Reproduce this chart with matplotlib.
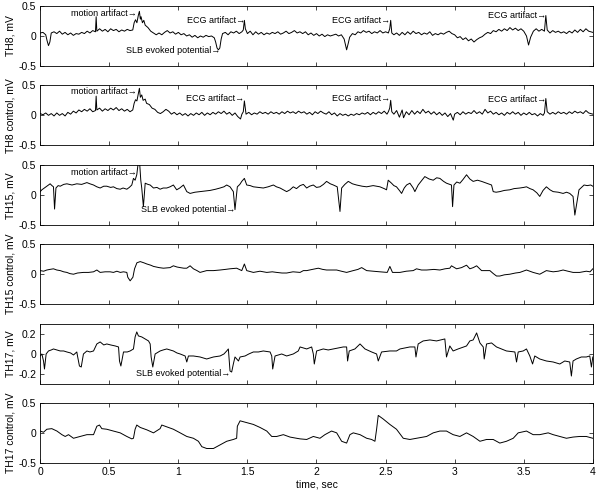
import numpy as np
import matplotlib
matplotlib.use('Agg')
import matplotlib.pyplot as plt

plt.rcParams['font.family'] = ['Liberation Sans', 'DejaVu Sans']

# traces: (time in sec, value in mV)
th8 = [(0.00, 0.05), (0.02, 0.06), (0.04, 0.02), (0.05, -0.08), (0.06, -0.16), (0.07, -0.10),
       (0.08, 0.05), (0.10, 0.07), (0.12, 0.04), (0.14, 0.08), (0.16, 0.03), (0.18, 0.06),
       (0.20, 0.02), (0.22, 0.05), (0.24, 0.01), (0.26, 0.04), (0.28, 0.03), (0.30, 0.06),
       (0.32, 0.04), (0.34, 0.08), (0.36, 0.05), (0.38, 0.09), (0.40, 0.07), (0.405, 0.32),
       (0.41, 0.08), (0.43, 0.12), (0.45, 0.08), (0.47, 0.11), (0.49, 0.07), (0.51, 0.12),
       (0.53, 0.09), (0.55, 0.11), (0.57, 0.07), (0.59, 0.10), (0.61, 0.08), (0.63, 0.11),
       (0.65, 0.09), (0.67, 0.10), (0.68, 0.22), (0.69, 0.27), (0.70, 0.22), (0.71, 0.34),
       (0.718, 0.41), (0.725, 0.28), (0.73, 0.32), (0.74, 0.22), (0.75, 0.26), (0.76, 0.18),
       (0.78, 0.14), (0.80, 0.08), (0.82, 0.05), (0.84, 0.02), (0.86, 0.05), (0.88, 0.02),
       (0.90, 0.06), (0.92, 0.09), (0.94, 0.05), (0.96, 0.07), (0.98, 0.03), (1.00, 0.06),
       (1.02, 0.02), (1.04, 0.04), (1.06, 0.00), (1.08, 0.02), (1.10, -0.02), (1.12, 0.01),
       (1.14, -0.03), (1.16, 0.00), (1.18, -0.02), (1.20, 0.01), (1.22, -0.01), (1.24, 0.00),
       (1.26, -0.03), (1.27, -0.10), (1.28, -0.20), (1.29, -0.23), (1.30, -0.20), (1.31, -0.05),
       (1.32, 0.04), (1.34, 0.06), (1.36, 0.02), (1.38, 0.07), (1.40, 0.05), (1.42, 0.08),
       (1.44, 0.04), (1.46, 0.07), (1.47, 0.10), (1.478, 0.26), (1.485, 0.12), (1.50, 0.04),
       (1.52, 0.08), (1.54, 0.02), (1.56, 0.07), (1.58, 0.03), (1.60, 0.06), (1.62, 0.02),
       (1.64, 0.05), (1.66, 0.03), (1.68, 0.06), (1.70, 0.04), (1.72, 0.07), (1.74, 0.03),
       (1.76, 0.05), (1.78, 0.08), (1.80, 0.04), (1.82, 0.06), (1.84, 0.09), (1.86, 0.05),
       (1.88, 0.07), (1.90, 0.04), (1.92, 0.07), (1.94, 0.02), (1.96, 0.05), (1.98, 0.01),
       (2.00, 0.04), (2.02, 0.00), (2.04, 0.03), (2.06, -0.01), (2.08, 0.02), (2.10, 0.00),
       (2.14, 0.03), (2.16, 0.00), (2.18, 0.02), (2.20, -0.05), (2.21, -0.15), (2.218, -0.23),
       (2.23, -0.12), (2.24, -0.02), (2.26, 0.04), (2.28, 0.02), (2.30, 0.07), (2.32, 0.05),
       (2.34, 0.09), (2.36, 0.06), (2.38, 0.08), (2.40, 0.04), (2.42, 0.07), (2.44, 0.05),
       (2.46, 0.09), (2.48, 0.05), (2.50, 0.07), (2.52, 0.05), (2.53, 0.12), (2.537, 0.26),
       (2.545, 0.05), (2.56, 0.02), (2.58, 0.05), (2.60, 0.01), (2.62, 0.06), (2.64, 0.02),
       (2.66, 0.07), (2.68, 0.03), (2.70, 0.08), (2.72, 0.04), (2.74, 0.06), (2.76, 0.02),
       (2.78, 0.05), (2.80, 0.03), (2.82, 0.07), (2.84, 0.01), (2.86, 0.04), (2.88, 0.02),
       (2.90, 0.05), (2.92, 0.03), (2.94, 0.06), (2.96, 0.08), (2.98, 0.04), (3.00, 0.02),
       (3.02, -0.03), (3.04, -0.01), (3.06, -0.06), (3.08, -0.03), (3.10, -0.08), (3.12, -0.05),
       (3.14, -0.10), (3.16, -0.06), (3.18, -0.03), (3.20, -0.01), (3.22, 0.03), (3.24, 0.06),
       (3.26, 0.04), (3.28, 0.09), (3.30, 0.07), (3.32, 0.11), (3.34, 0.08), (3.36, 0.12),
       (3.38, 0.09), (3.40, 0.14), (3.42, 0.10), (3.44, 0.13), (3.46, 0.09), (3.48, 0.12),
       (3.50, 0.08), (3.52, 0.00), (3.535, -0.15), (3.55, -0.02), (3.57, 0.08), (3.59, 0.12),
       (3.61, 0.08), (3.63, 0.11), (3.65, 0.08), (3.66, 0.34), (3.67, 0.10), (3.69, 0.05),
       (3.71, 0.09), (3.73, 0.06), (3.75, 0.08), (3.77, 0.05), (3.79, 0.07), (3.81, 0.04),
       (3.83, 0.08), (3.85, 0.05), (3.87, 0.10), (3.89, 0.06), (3.91, 0.11), (3.93, 0.07),
       (3.95, 0.12), (3.97, 0.08), (4.00, 0.06)]

th8_control = [(0.00, 0.03), (0.02, 0.01), (0.04, 0.04), (0.06, 0.00), (0.08, 0.03), (0.10, -0.01),
               (0.12, 0.04), (0.14, 0.00), (0.16, 0.03), (0.18, -0.01), (0.20, 0.05), (0.22, 0.02),
               (0.24, 0.07), (0.26, 0.04), (0.28, 0.09), (0.30, 0.06), (0.32, 0.10), (0.34, 0.07),
               (0.36, 0.11), (0.38, 0.06), (0.40, 0.08), (0.405, 0.32), (0.41, 0.09), (0.43, 0.12),
               (0.45, 0.07), (0.47, 0.11), (0.49, 0.08), (0.51, 0.12), (0.53, 0.09), (0.55, 0.13),
               (0.57, 0.08), (0.59, 0.11), (0.61, 0.07), (0.63, 0.10), (0.65, 0.06), (0.67, 0.09),
               (0.68, 0.20), (0.69, 0.26), (0.70, 0.24), (0.71, 0.36), (0.718, 0.45), (0.725, 0.30),
               (0.735, 0.34), (0.745, 0.25), (0.76, 0.27), (0.77, 0.20), (0.79, 0.18), (0.81, 0.12),
               (0.83, 0.10), (0.85, 0.05), (0.87, 0.03), (0.89, 0.06), (0.91, 0.10), (0.93, 0.07),
               (0.95, 0.02), (0.97, 0.05), (0.99, 0.01), (1.01, 0.04), (1.03, 0.00), (1.05, 0.03),
               (1.07, -0.01), (1.09, 0.03), (1.11, 0.00), (1.13, 0.04), (1.15, 0.01), (1.17, 0.05),
               (1.19, 0.00), (1.21, 0.04), (1.23, 0.01), (1.25, 0.05), (1.27, 0.02), (1.29, 0.06),
               (1.31, 0.03), (1.33, 0.07), (1.35, 0.02), (1.37, 0.05), (1.39, 0.00), (1.41, 0.04),
               (1.43, -0.02), (1.45, -0.06), (1.46, 0.02), (1.47, 0.06), (1.478, 0.24), (1.49, 0.02),
               (1.51, 0.05), (1.53, 0.01), (1.55, 0.04), (1.57, 0.02), (1.59, 0.06), (1.61, 0.03),
               (1.63, 0.05), (1.65, 0.02), (1.67, 0.06), (1.69, 0.03), (1.71, 0.05), (1.73, 0.02),
               (1.75, 0.06), (1.77, 0.03), (1.79, 0.07), (1.81, 0.04), (1.83, 0.06), (1.85, 0.03),
               (1.87, 0.07), (1.89, 0.04), (1.91, 0.06), (1.93, 0.02), (1.95, 0.05), (1.97, 0.01),
               (1.99, 0.06), (2.01, 0.03), (2.03, 0.07), (2.05, 0.04), (2.07, 0.02), (2.09, 0.06),
               (2.11, 0.01), (2.13, 0.04), (2.15, -0.01), (2.17, 0.03), (2.19, 0.00), (2.21, 0.02),
               (2.23, -0.01), (2.25, 0.02), (2.27, 0.00), (2.29, 0.03), (2.31, 0.01), (2.33, 0.04),
               (2.35, 0.02), (2.37, 0.05), (2.39, 0.01), (2.41, 0.05), (2.43, 0.02), (2.45, 0.06),
               (2.47, 0.03), (2.49, 0.07), (2.51, 0.02), (2.52, 0.06), (2.53, 0.12), (2.537, 0.25),
               (2.545, 0.06), (2.56, 0.02), (2.58, 0.08), (2.60, -0.03), (2.62, 0.09), (2.63, -0.04),
               (2.65, 0.06), (2.67, 0.01), (2.69, 0.08), (2.71, 0.02), (2.73, 0.07), (2.75, 0.03),
               (2.77, 0.10), (2.79, 0.04), (2.81, 0.07), (2.83, 0.02), (2.85, 0.06), (2.87, 0.01),
               (2.89, 0.05), (2.91, 0.00), (2.93, 0.04), (2.95, -0.02), (2.97, 0.03), (2.99, -0.08),
               (3.00, 0.02), (3.02, 0.05), (3.04, 0.01), (3.06, 0.06), (3.08, 0.02), (3.10, 0.05),
               (3.12, 0.03), (3.14, 0.08), (3.16, 0.03), (3.18, 0.06), (3.20, 0.02), (3.22, 0.10),
               (3.24, 0.04), (3.26, 0.07), (3.28, 0.02), (3.30, 0.05), (3.32, 0.01), (3.34, 0.04),
               (3.36, 0.00), (3.38, 0.05), (3.40, 0.02), (3.42, 0.06), (3.44, 0.02), (3.46, 0.05),
               (3.48, 0.00), (3.50, 0.04), (3.52, 0.01), (3.54, 0.05), (3.56, 0.01), (3.58, 0.03),
               (3.60, -0.01), (3.62, 0.03), (3.64, 0.00), (3.65, 0.04), (3.66, 0.28), (3.67, 0.06),
               (3.69, 0.02), (3.71, 0.05), (3.73, 0.02), (3.75, 0.06), (3.77, 0.03), (3.79, 0.05),
               (3.81, 0.02), (3.83, 0.06), (3.85, 0.03), (3.87, 0.07), (3.89, 0.04), (3.91, 0.06),
               (3.93, 0.03), (3.95, 0.08), (3.97, 0.04), (4.00, 0.02)]

th15 = [(0.00, 0.06), (0.012, 0.09), (0.03, 0.12), (0.048, 0.15), (0.06, 0.17), (0.072, 0.19),
        (0.085, 0.16), (0.096, 0.14), (0.104, -0.23), (0.114, 0.12), (0.13, 0.16), (0.145, 0.15),
        (0.17, 0.18), (0.193, 0.19), (0.23, 0.17), (0.265, 0.19), (0.30, 0.18), (0.338, 0.21),
        (0.36, 0.19), (0.386, 0.17), (0.41, 0.14), (0.434, 0.12), (0.46, 0.15), (0.482, 0.15),
        (0.51, 0.13), (0.53, 0.14), (0.555, 0.11), (0.579, 0.10), (0.60, 0.12), (0.627, 0.10),
        (0.645, 0.13), (0.663, 0.17), (0.675, 0.28), (0.687, 0.25), (0.699, 0.34), (0.71, 0.55),
        (0.718, 0.60), (0.722, 0.45), (0.728, 0.25), (0.735, 0.12), (0.747, -0.19), (0.76, 0.20),
        (0.78, 0.18), (0.796, 0.17), (0.82, 0.12), (0.845, 0.13), (0.868, 0.10), (0.89, 0.12),
        (0.916, 0.12), (0.94, 0.14), (0.964, 0.17), (0.988, 0.09), (1.01, 0.12), (1.037, 0.17),
        (1.061, 0.06), (1.085, 0.03), (1.12, 0.05), (1.157, 0.06), (1.19, 0.07), (1.23, 0.08),
        (1.27, 0.10), (1.302, 0.12), (1.33, 0.14), (1.35, 0.17), (1.374, 0.14), (1.398, 0.06),
        (1.41, -0.24), (1.427, 0.14), (1.445, 0.18), (1.459, 0.23), (1.478, 0.28), (1.495, 0.17),
        (1.52, 0.16), (1.543, 0.14), (1.58, 0.13), (1.615, 0.12), (1.65, 0.14), (1.688, 0.17),
        (1.71, 0.14), (1.736, 0.12), (1.76, 0.09), (1.784, 0.06), (1.808, 0.09), (1.832, 0.14),
        (1.855, 0.11), (1.881, 0.16), (1.905, 0.18), (1.929, 0.12), (1.95, 0.15), (1.977, 0.17),
        (2.00, 0.13), (2.025, 0.14), (2.05, 0.18), (2.073, 0.23), (2.10, 0.19), (2.122, 0.17),
        (2.15, 0.14), (2.17, -0.27), (2.182, 0.12), (2.205, 0.18), (2.23, 0.23), (2.26, 0.19),
        (2.29, 0.17), (2.33, 0.15), (2.363, 0.14), (2.41, 0.16), (2.459, 0.14), (2.49, 0.11),
        (2.507, 0.09), (2.519, 0.25), (2.543, 0.20), (2.56, 0.16), (2.579, 0.14), (2.60, 0.08),
        (2.616, 0.03), (2.635, 0.12), (2.652, 0.17), (2.676, 0.20), (2.70, 0.12), (2.712, 0.06),
        (2.736, 0.17), (2.76, 0.24), (2.784, 0.31), (2.815, 0.27), (2.845, 0.25), (2.87, 0.29),
        (2.893, 0.28), (2.92, 0.23), (2.941, 0.20), (2.977, 0.17), (2.985, -0.19), (2.995, 0.17),
        (3.015, 0.22), (3.038, 0.20), (3.06, 0.26), (3.086, 0.34), (3.11, 0.27), (3.134, 0.23),
        (3.165, 0.25), (3.195, 0.23), (3.231, 0.20), (3.267, 0.17), (3.279, 0.06), (3.30, 0.05),
        (3.327, 0.06), (3.36, 0.08), (3.399, 0.09), (3.43, 0.11), (3.472, 0.12), (3.50, 0.13),
        (3.52, 0.14), (3.545, 0.11), (3.568, 0.09), (3.595, 0.04), (3.616, -0.02), (3.64, 0.08),
        (3.664, 0.14), (3.69, 0.09), (3.713, 0.06), (3.75, 0.05), (3.785, 0.03), (3.81, 0.05),
        (3.833, 0.03), (3.857, -0.02), (3.87, -0.33), (3.90, 0.09), (3.937, 0.17), (3.96, 0.16),
        (3.985, 0.17), (4.00, 0.15)]

th15_control = [(0.00, 0.05), (0.025, 0.04), (0.048, 0.06), (0.07, 0.07), (0.096, 0.08), (0.12, 0.06),
                (0.145, 0.05), (0.17, 0.03), (0.193, 0.02), (0.215, 0.00), (0.241, -0.01), (0.27, 0.01),
                (0.313, 0.02), (0.35, 0.02), (0.386, 0.03), (0.41, 0.06), (0.434, 0.02), (0.47, 0.03),
                (0.506, 0.03), (0.53, 0.02), (0.555, 0.04), (0.58, 0.02), (0.603, 0.03), (0.627, 0.02),
                (0.634, -0.06), (0.651, -0.12), (0.671, -0.06), (0.683, 0.08), (0.70, 0.18), (0.724, 0.20),
                (0.75, 0.18), (0.772, 0.16), (0.80, 0.14), (0.82, 0.12), (0.86, 0.10), (0.892, 0.09),
                (0.94, 0.10), (0.964, 0.13), (0.99, 0.11), (1.013, 0.10), (1.04, 0.09), (1.061, 0.09),
                (1.085, 0.13), (1.109, 0.08), (1.135, 0.05), (1.157, 0.02), (1.205, 0.05), (1.254, 0.05),
                (1.302, 0.06), (1.34, 0.07), (1.374, 0.08), (1.422, 0.09), (1.459, 0.05), (1.478, 0.16),
                (1.495, 0.05), (1.543, 0.02), (1.591, 0.04), (1.64, 0.02), (1.68, 0.03), (1.712, 0.02),
                (1.75, 0.01), (1.784, 0.01), (1.83, 0.03), (1.881, 0.02), (1.905, 0.05), (1.929, 0.05),
                (1.97, 0.07), (2.013, 0.09), (2.045, 0.07), (2.073, 0.06), (2.11, 0.06), (2.146, 0.06),
                (2.18, 0.04), (2.218, 0.02), (2.266, 0.05), (2.30, 0.07), (2.327, 0.10), (2.363, 0.05),
                (2.41, 0.04), (2.459, 0.03), (2.512, 0.02), (2.531, 0.12), (2.55, 0.02), (2.604, 0.02),
                (2.65, 0.04), (2.70, 0.05), (2.724, 0.08), (2.76, 0.06), (2.797, 0.06), (2.85, 0.07),
                (2.893, 0.06), (2.93, 0.08), (2.965, 0.09), (2.977, 0.13), (3.014, 0.08), (3.05, 0.10),
                (3.086, 0.14), (3.11, 0.08), (3.135, 0.10), (3.159, 0.13), (3.195, 0.05), (3.255, 0.05),
                (3.28, 0.00), (3.303, -0.04), (3.327, -0.04), (3.36, -0.02), (3.399, -0.01), (3.44, 0.01),
                (3.472, 0.02), (3.52, 0.06), (3.568, 0.02), (3.616, -0.01), (3.664, 0.05), (3.713, 0.03),
                (3.75, 0.04), (3.785, 0.06), (3.82, 0.04), (3.857, 0.02), (3.905, 0.02), (3.953, 0.04),
                (3.98, 0.03), (4.00, 0.08)]

th17 = [(0.00, -0.02), (0.012, 0.00), (0.024, -0.07), (0.031, -0.15), (0.043, 0.00), (0.06, 0.03),
        (0.08, 0.04), (0.096, 0.05), (0.12, 0.04), (0.145, 0.03), (0.17, 0.03), (0.193, 0.02),
        (0.22, 0.01), (0.241, -0.01), (0.265, 0.02), (0.27, -0.02), (0.284, -0.12), (0.297, -0.13),
        (0.313, 0.00), (0.338, 0.03), (0.36, 0.02), (0.386, 0.03), (0.41, 0.10), (0.434, 0.12),
        (0.46, 0.09), (0.482, 0.10), (0.51, 0.09), (0.543, 0.08), (0.567, 0.07), (0.574, -0.07),
        (0.584, -0.12), (0.603, 0.02), (0.63, 0.02), (0.651, 0.03), (0.675, 0.05), (0.687, 0.17),
        (0.699, 0.22), (0.711, 0.18), (0.735, 0.17), (0.76, 0.15), (0.784, 0.13), (0.796, 0.10),
        (0.803, -0.03), (0.815, -0.13), (0.832, 0.00), (0.868, 0.03), (0.89, 0.04), (0.916, 0.05),
        (0.94, 0.04), (0.964, 0.03), (0.99, 0.01), (1.013, 0.00), (1.049, -0.02), (1.061, -0.08),
        (1.073, -0.02), (1.109, -0.02), (1.157, -0.03), (1.205, -0.05), (1.254, -0.03),
        (1.302, -0.02), (1.33, 0.00), (1.35, 0.03), (1.362, 0.05), (1.374, -0.17), (1.386, -0.18),
        (1.398, -0.10), (1.41, -0.03), (1.435, -0.07), (1.447, -0.03), (1.483, -0.02), (1.51, 0.00),
        (1.543, 0.02), (1.58, 0.02), (1.615, 0.03), (1.664, 0.02), (1.676, -0.02), (1.683, -0.15),
        (1.70, -0.02), (1.748, 0.00), (1.784, -0.02), (1.832, 0.00), (1.868, 0.03), (1.881, 0.07),
        (1.929, 0.05), (1.965, 0.07), (1.977, 0.00), (1.984, -0.10), (2.001, 0.03), (2.049, 0.05),
        (2.085, 0.04), (2.122, 0.05), (2.16, 0.06), (2.194, 0.07), (2.218, 0.07), (2.225, -0.07),
        (2.237, 0.03), (2.278, 0.05), (2.315, 0.10), (2.351, 0.05), (2.399, 0.02), (2.435, 0.00),
        (2.447, -0.07), (2.471, 0.02), (2.531, 0.03), (2.579, 0.03), (2.604, 0.05), (2.64, 0.06),
        (2.676, 0.07), (2.712, 0.07), (2.72, -0.03), (2.736, 0.10), (2.772, 0.13), (2.821, 0.14),
        (2.869, 0.13), (2.929, 0.15), (2.941, -0.03), (2.965, 0.08), (2.989, 0.03), (3.025, 0.05),
        (3.086, 0.08), (3.11, 0.13), (3.134, 0.14), (3.159, 0.21), (3.183, 0.11), (3.207, 0.07),
        (3.214, -0.05), (3.231, 0.10), (3.267, 0.11), (3.303, 0.07), (3.34, 0.05), (3.375, 0.03),
        (3.436, 0.02), (3.448, -0.08), (3.46, 0.02), (3.496, 0.03), (3.52, 0.05), (3.544, -0.02),
        (3.564, -0.10), (3.58, -0.02), (3.616, -0.05), (3.664, -0.07), (3.713, -0.08),
        (3.761, -0.10), (3.797, -0.07), (3.833, -0.08), (3.845, -0.22), (3.857, -0.07),
        (3.881, -0.05), (3.917, -0.03), (3.953, -0.03), (3.978, -0.02), (3.99, -0.13), (4.00, -0.03)]

th17_control = [(0.00, 0.03), (0.024, 0.01), (0.048, 0.06), (0.084, 0.07), (0.121, 0.03), (0.157, -0.03),
                (0.181, -0.06), (0.205, -0.03), (0.241, -0.09), (0.289, -0.06), (0.338, -0.03),
                (0.386, -0.03), (0.41, 0.11), (0.429, 0.13), (0.446, 0.07), (0.482, 0.06), (0.53, 0.03),
                (0.579, 0.00), (0.627, -0.06), (0.663, -0.10), (0.675, -0.09), (0.687, 0.06),
                (0.699, 0.13), (0.724, 0.09), (0.772, 0.05), (0.82, 0.00), (0.868, 0.07), (0.88, 0.13),
                (0.916, 0.10), (0.964, 0.06), (1.013, 0.00), (1.061, -0.06), (1.109, -0.09),
                (1.145, -0.14), (1.17, -0.23), (1.205, -0.26), (1.254, -0.26), (1.302, -0.20),
                (1.35, -0.14), (1.398, -0.11), (1.422, -0.09), (1.427, 0.11), (1.447, 0.20),
                (1.495, 0.17), (1.543, 0.14), (1.591, 0.09), (1.64, 0.03), (1.676, -0.06),
                (1.712, -0.06), (1.76, -0.03), (1.808, -0.07), (1.856, -0.09), (1.881, -0.10),
                (1.929, -0.11), (1.977, -0.06), (2.025, -0.09), (2.061, -0.03), (2.109, 0.03),
                (2.146, 0.00), (2.182, -0.14), (2.218, -0.17), (2.242, -0.03), (2.266, 0.00),
                (2.315, -0.03), (2.363, -0.09), (2.399, -0.11), (2.423, -0.14), (2.435, 0.06),
                (2.447, 0.29), (2.483, 0.23), (2.531, 0.14), (2.579, 0.06), (2.628, -0.09),
                (2.676, -0.11), (2.724, -0.09), (2.797, -0.06), (2.845, 0.00), (2.893, 0.03),
                (2.941, 0.03), (2.989, -0.03), (3.038, -0.06), (3.086, 0.00), (3.134, -0.06),
                (3.183, -0.14), (3.231, -0.11), (3.279, -0.11), (3.327, -0.17), (3.375, -0.14),
                (3.424, -0.09), (3.46, 0.00), (3.52, 0.03), (3.568, -0.03), (3.616, -0.03),
                (3.677, 0.00), (3.713, -0.03), (3.761, -0.06), (3.809, -0.09), (3.857, -0.07),
                (3.905, -0.06), (3.953, -0.06), (4.00, -0.09)]

traces = [th8, th8_control, th15, th15_control, th17, th17_control]
ylabels = ['TH8, mV', 'TH8 control, mV', 'TH15, mV', 'TH15 control, mV',
           'TH17, mV', 'TH17 control, mV']
ylims = [(-0.5, 0.5)] * 4 + [(-0.3, 0.3), (-0.5, 0.5)]
yticks = [[-0.5, 0, 0.5]] * 4 + [[-0.2, 0, 0.2], [-0.5, 0, 0.5]]
xticks = [0, 0.5, 1, 1.5, 2, 2.5, 3, 3.5, 4]
xticklabels = ['0', '0.5', '1', '1.5', '2', '2.5', '3', '3.5', '4']

# annotations per panel: (text, time, value) - text ends at the point
notes = [
    [('motion artifact\u2192', 0.70, 0.37), ('ECG artifact\u2192', 1.48, 0.26),
     ('SLB evoked potential\u2192', 1.30, -0.245), ('ECG artifact\u2192', 2.53, 0.26),
     ('ECG artifact\u2192', 3.66, 0.34)],
    [('motion artifact\u2192', 0.70, 0.40), ('ECG artifact\u2192', 1.478, 0.28),
     ('ECG artifact\u2192', 2.535, 0.28), ('ECG artifact\u2192', 3.66, 0.27)],
    [('motion artifact\u2192', 0.70, 0.38), ('SLB evoked potential\u2192', 1.41, -0.24)],
    [],
    [('SLB evoked potential\u2192', 1.374, -0.19)],
    [],
]

fig = plt.figure(figsize=(6, 4.93), dpi=100)
bottoms = [0.866, 0.705, 0.543, 0.384, 0.221, 0.061]
for i in range(6):
    ax = fig.add_axes([0.067, bottoms[i], 0.921, 0.122])
    d = np.array(traces[i])
    ax.plot(d[:, 0], d[:, 1], color='black', lw=0.7)
    ax.set_xlim(0, 4)
    ax.set_ylim(*ylims[i])
    ax.set_yticks(yticks[i])
    ax.set_yticklabels(['%g' % v for v in yticks[i]])
    ax.set_xticks(xticks)
    if i == 5:
        ax.set_xticklabels(xticklabels)
        ax.set_xlabel('time, sec', fontsize=7.5, labelpad=2)
    else:
        ax.set_xticklabels([])
    ax.set_ylabel(ylabels[i], fontsize=7.5, labelpad=2)
    ax.tick_params(direction='in', top=True, right=True, length=3, width=0.5,
                   labelsize=7.5, pad=3)
    for s in ax.spines.values():
        s.set_linewidth(0.6)
    for label, t, v in notes[i]:
        ax.text(t, v, label, ha='right', va='center', fontsize=6.5)

fig.savefig('out.png', dpi=100)
